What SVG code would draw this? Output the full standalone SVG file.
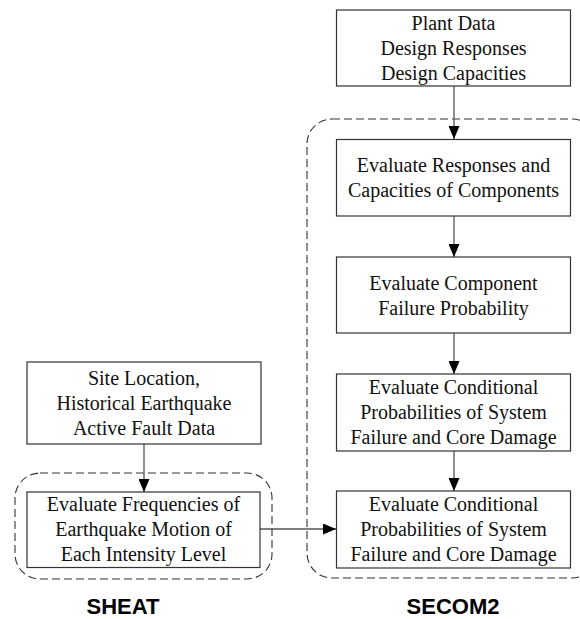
<svg xmlns="http://www.w3.org/2000/svg" width="580" height="619" viewBox="0 0 580 619">
<style>
.box{fill:#fff;stroke:#333;stroke-width:1.2}
.grp{fill:none;stroke:#333;stroke-width:1.1;stroke-dasharray:8,4}
.t{font-family:"Liberation Serif","Times New Roman",serif;font-size:20px;fill:#111;text-anchor:middle}
.lbl{font-family:"Liberation Sans",Arial,sans-serif;font-size:22px;font-weight:bold;fill:#000;text-anchor:middle}
.conn line{stroke:#555;stroke-width:1.3;marker-end:url(#ah)}
</style>
<defs>
<marker id="ah" viewBox="0 0 13 11" refX="13" refY="5.5" markerWidth="13" markerHeight="11" markerUnits="userSpaceOnUse" orient="auto">
<path d="M0,0 L13,5.5 L0,11 z" fill="#000"/>
</marker>
</defs>
<rect width="580" height="619" fill="#fff"/>
<g id="groups">
<rect id="secom2-group" class="grp" x="307" y="119" width="290" height="459" rx="25" ry="25"/>
<rect id="sheat-group" class="grp" x="15" y="473" width="257" height="106" rx="25" ry="25"/>
</g>
<g id="connectors" class="conn">
<line x1="454" y1="86" x2="454" y2="139"/>
<line x1="454" y1="216" x2="454" y2="257"/>
<line x1="454" y1="333" x2="454" y2="374"/>
<line x1="454" y1="451" x2="454" y2="491"/>
<line x1="144" y1="444" x2="144" y2="492"/>
<line x1="260" y1="529" x2="336" y2="529"/>
</g>
<g id="plant-data">
<rect class="box" x="336.5" y="10" width="234" height="76"/>
<text class="t" x="453.5" y="30">Plant Data</text>
<text class="t" x="453.5" y="55">Design Responses</text>
<text class="t" x="453.5" y="80">Design Capacities</text>
</g>
<g id="eval-responses">
<rect class="box" x="336.5" y="139.5" width="234" height="76.5"/>
<text class="t" x="453.5" y="172">Evaluate Responses and</text>
<text class="t" x="453.5" y="197">Capacities of Components</text>
</g>
<g id="eval-component">
<rect class="box" x="336.5" y="257" width="234" height="76"/>
<text class="t" x="453.5" y="289.5">Evaluate Component</text>
<text class="t" x="453.5" y="314.5">Failure Probability</text>
</g>
<g id="eval-conditional-1">
<rect class="box" x="336.5" y="374" width="234" height="77"/>
<text class="t" x="453.5" y="394">Evaluate Conditional</text>
<text class="t" x="453.5" y="419">Probabilities of System</text>
<text class="t" x="453.5" y="444">Failure and Core Damage</text>
</g>
<g id="eval-conditional-2">
<rect class="box" x="336.5" y="491" width="234" height="77"/>
<text class="t" x="453.5" y="511">Evaluate Conditional</text>
<text class="t" x="453.5" y="536">Probabilities of System</text>
<text class="t" x="453.5" y="561">Failure and Core Damage</text>
</g>
<g id="site-location">
<rect class="box" x="27" y="362" width="234" height="82"/>
<text class="t" x="144" y="385">Site Location,</text>
<text class="t" x="144" y="410">Historical Earthquake</text>
<text class="t" x="144" y="435">Active Fault Data</text>
</g>
<g id="eval-frequencies">
<rect class="box" x="27" y="492" width="233" height="75.5"/>
<text class="t" x="143.5" y="511">Evaluate Frequencies of</text>
<text class="t" x="143.5" y="536">Earthquake Motion of</text>
<text class="t" x="143.5" y="561">Each Intensity Level</text>
</g>
<g id="labels">
<text class="lbl" x="123" y="614">SHEAT</text>
<text class="lbl" x="453" y="614">SECOM2</text>
</g>
</svg>
